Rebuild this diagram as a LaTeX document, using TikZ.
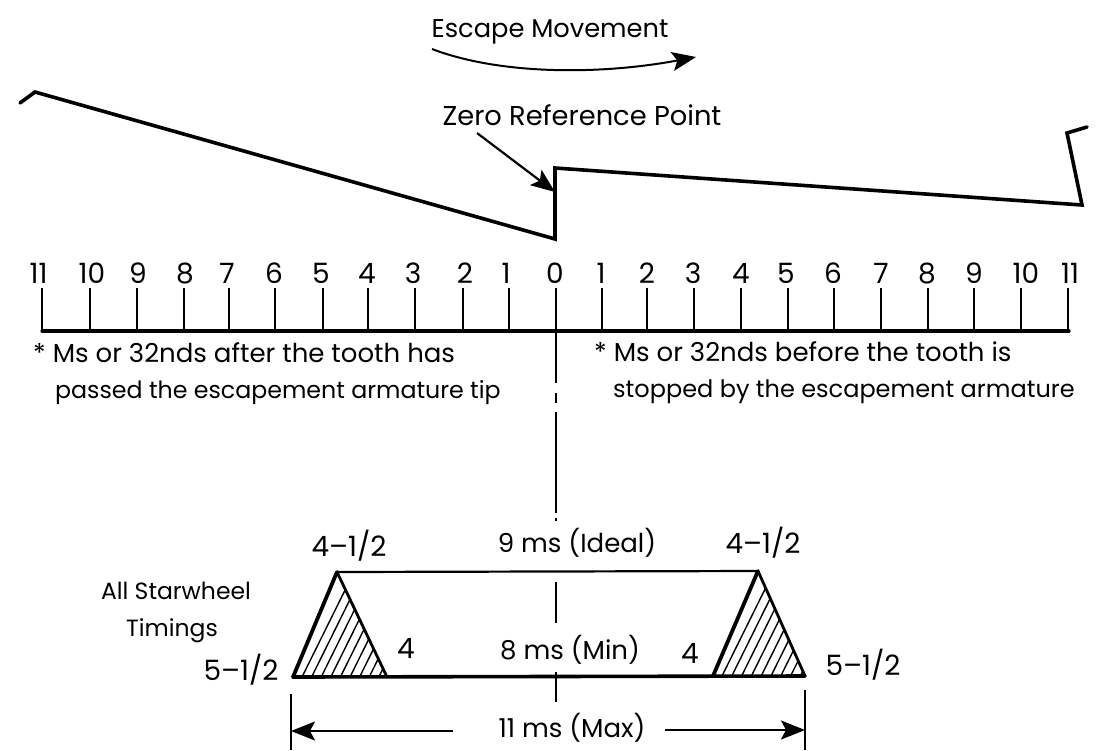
\documentclass[tikz,border=0pt]{standalone}
\usepackage{fontspec}
\setmainfont{Poppins}
\usetikzlibrary{arrows.meta}
\newcommand{\fs}[1]{\fontsize{#1}{#1}\selectfont}
\tikzset{
 x=1pt,y=-1pt,
 lab/.style={inner sep=0pt,font=\fs{25}},
 num/.style={inner sep=0pt,font=\fs{28}},
 saw/.style={line width=3.6pt,line join=miter,line cap=round},
 thin line/.style={line width=2pt},
 thick line/.style={line width=3.2pt},
 tip/.style={-{Stealth[length=24pt,width=19pt,inset=5pt]}},
 hatchline/.style={line width=1.4pt}
}
\begin{document}
\begin{tikzpicture}
\useasboundingbox (0,0) rectangle (1110,750);
% sawtooth
\coordinate (s0) at (20,103);
\coordinate (s1) at (35,92);
\coordinate (s2) at (555,239);
\coordinate (s3) at (555,168);
\coordinate (s4) at (1082,205);
\coordinate (s5) at (1067,133);
\coordinate (s6) at (1087,127);
\draw[saw] (s0)--(s1)--(s2)--(s3)--(s4)--(s5)--(s6);
% escape
\node[lab,font=\fs{25.7}] (esc) at (550,32) {Escape Movement};
\coordinate (e0) at (432,49);
\coordinate (e1) at (696,57);
\draw[line width=2pt,tip] (e0) .. controls (500,75) and (600,75) .. (e1);
% zero
\node[lab,font=\fs{27.3}] (zero) at (582,115) {Zero Reference Point};
\coordinate (z0) at (477,133);
\coordinate (z1) at (555,192);
\draw[line width=2.2pt,tip] (z0)--(z1);
% axis
\coordinate (axL) at (42,331);
\coordinate (axR) at (1069,331);
\draw[thick line,line cap=round] (axL)--(axR);
\foreach \n/\x in {a/42,b/90,c/137,d/183.5,e/229,f/275,g/323,h/367.5,i/414.5,j/462.5,k/509,m/601.5,n/647,o/693.5,p/741,q/787.5,r/834,s/881,t/927.5,u/974,v/1020.5,w/1068}{
  \coordinate (tk\n) at (\x,288);
  \draw[thin line] (tk\n)--(\x,331);
}
\foreach \n/\x/\t in {a/38.5/11,b/92/10,c/138/9,d/185/8,e/227/7,f/274/6,g/321/5,h/367/4,i/413/3,j/465/2,k/506/1,l/555/0,m/601/1,n/647/2,o/693/3,p/741/4,q/786/5,r/833/6,s/881/7,t/927/8,u/974/9,v/1026/10,w/1070/11}{
  \node[num,anchor=base] (nm\n) at (\x,283) {\t};
}
% center line
\coordinate (c00) at (555.5,288);
\coordinate (c1) at (555.5,383);
\coordinate (c2) at (555.5,393);
\coordinate (c3) at (555.5,403);
\coordinate (c4) at (555.5,412);
\coordinate (c6) at (555.5,513);
\coordinate (c7) at (555.5,518);
\coordinate (c8) at (555.5,521);
\coordinate (c9) at (555.5,582);
\coordinate (c10) at (555.5,623);
\coordinate (c11) at (555.5,672);
\coordinate (c12) at (555.5,702);
\draw[thin line] (c00)--(c1) (c2)--(c3) (c4)--(c6) (c7)--(c8) (c9)--(c10) (c11)--(c12);
% notes
\node[lab,anchor=base west,font=\fs{26}] (n1) at (33,362) {* Ms or 32nds after the tooth has};
\node[lab,anchor=base west,font=\fs{23.7}] (n2) at (55,398) {passed the escapement armature tip};
\node[lab,anchor=base west,font=\fs{26}] (n3) at (594,361) {* Ms or 32nds before the tooth is};
\node[lab,anchor=base west,font=\fs{24}] (n4) at (613,397) {stopped by the escapement armature};
% trapezoids
\coordinate (tl) at (337,572);
\coordinate (tr) at (758,571);
\coordinate (bl) at (293,677);
\coordinate (il) at (387,677);
\coordinate (ir) at (713,676);
\coordinate (br) at (805,676);
\begin{scope}
\clip (bl)--(tl)--(il)--cycle;
\foreach \i in {0,...,10}{\draw[hatchline] (302+\i*9.6,677) -- ++(52,-105);}
\end{scope}
\begin{scope}
\clip (ir)--(tr)--(br)--cycle;
\foreach \i in {0,...,10}{\draw[hatchline] (722+\i*9.8,676) -- ++(52,-105);}
\end{scope}
\draw[line width=2.2pt,line join=round] (tl)--(tr);
\draw[line width=3.6pt,line cap=round] (bl)--(br);
\draw[line width=3.8pt,line cap=round] (bl)--(tl);
\draw[line width=2.8pt,line cap=round] (tl)--(il);
\draw[line width=3.8pt,line cap=round] (ir)--(tr);
\draw[line width=2.8pt,line cap=round] (tr)--(br);
% trapezoid labels
\node[num,anchor=base] (t1) at (349,556) {4--1/2};
\node[num,anchor=base] (t2) at (763,553) {4--1/2};
\node[lab,anchor=base,font=\fs{26}] (t3) at (577,552) {9 ms (Ideal)};
\node[num,anchor=base] (t4) at (406,658) {4};
\node[num,anchor=base] (t5) at (690,663) {4};
\node[lab,anchor=base,font=\fs{26}] (t6) at (570,659) {8 ms (Min)};
\node[num,anchor=base] (t7) at (241,680) {5--1/2};
\node[num,anchor=base] (t8) at (863,675) {5--1/2};
\node[lab,anchor=base,font=\fs{23.5}] (t9) at (176,599) {All Starwheel};
\node[lab,anchor=base,font=\fs{23.5}] (t9b) at (172,636) {Timings};
\node[lab,anchor=base,font=\fs{26}] (t10) at (572,737) {11 ms (Max)};
% dimension
\coordinate (dl0) at (291,694);
\coordinate (dl1) at (291,750);
\coordinate (dr0) at (805,690);
\coordinate (dr1) at (805,750);
\draw[thin line] (dl0)--(dl1) (dr0)--(dr1);
\coordinate (al) at (453,731);
\coordinate (ar) at (665,730);
\draw[line width=2pt,tip] (al)--(291,731);
\draw[line width=2pt,tip] (ar)--(805,730);
\end{tikzpicture}
\end{document}
